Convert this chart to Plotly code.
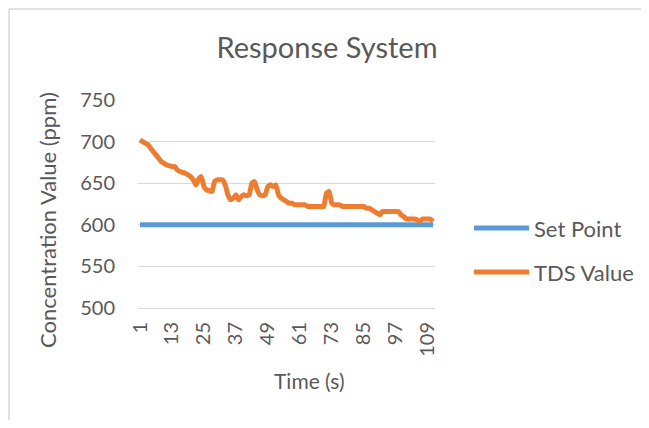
import plotly.graph_objects as go

# ---- data ----
time_s = list(range(1, 112))
set_point = [600] * 111
tds_value = [
    702, 700, 698, 696, 692, 688, 684, 680, 676, 674,
    672, 671, 670, 670, 666, 664, 663, 662, 660, 658,
    654, 648, 655, 658, 646, 642, 641, 640, 652, 654,
    654, 654, 648, 636, 630, 632, 636, 630, 634, 636,
    635, 636, 650, 652, 642, 636, 635, 636, 646, 648,
    646, 648, 636, 632, 630, 628, 626, 626, 624, 624,
    624, 624, 624, 622, 622, 622, 622, 622, 622, 622,
    638, 640, 626, 624, 624, 624, 622, 622, 622, 622,
    622, 622, 622, 622, 622, 620, 620, 618, 616, 614,
    612, 616, 616, 616, 616, 616, 616, 616, 612, 610,
    607, 607, 607, 607, 606, 604, 607, 607, 607, 607,
    604,
]
x_tick_vals = [1, 13, 25, 37, 49, 61, 73, 85, 97, 109]
y_tick_vals = [500, 550, 600, 650, 700, 750]
series_names = ["Set Point", "TDS Value"]
title_text = "Response System"
x_title = "Time (s)"
y_title = "Concentration Value (ppm)"

# ---- layout geometry (screen pixels; page body adds an 8px margin) ----
OFF = 8
W_PX, H_PX = 649 - 2 * OFF, 428 - 2 * OFF
L, R, T, B = 138, 435, 100, 308
pw, ph = R - L, B - T

def px(xp):
    return (xp - L) / pw

def py(yp):
    return 1 - (yp - T) / ph

BLUE = "#5B9BD5"
ORANGE = "#ED7D31"
TXT = "#595959"
GRID = "#D9D9D9"
FONT = "Lato"

fig = go.Figure()
fig.add_trace(go.Scatter(x=time_s, y=set_point, mode="lines", name=series_names[0],
                         line=dict(color=BLUE, width=5), showlegend=False))
fig.add_trace(go.Scatter(x=time_s, y=tds_value, mode="lines", name=series_names[1],
                         line=dict(color=ORANGE, width=5, shape="spline", smoothing=0.4),
                         showlegend=False))

shapes = []
annotations = []
# outer chart border: only top and left edges are visible in the picture
shapes.append(dict(type="line", xref="paper", yref="paper",
                   x0=px(9), x1=px(649), y0=py(9), y1=py(9),
                   line=dict(color=GRID, width=1.5), layer="below"))
shapes.append(dict(type="line", xref="paper", yref="paper",
                   x0=px(9), x1=px(9), y0=py(9), y1=py(428),
                   line=dict(color=GRID, width=1.5), layer="below"))
# manual legend
legend_rows = [(series_names[0], BLUE, 228), (series_names[1], ORANGE, 272)]
for name, col, yp in legend_rows:
    shapes.append(dict(type="line", xref="paper", yref="paper",
                       x0=px(474), x1=px(529), y0=py(yp), y1=py(yp),
                       line=dict(color=col, width=5)))
    annotations.append(dict(text=name, xref="paper", yref="paper",
                            x=px(532), y=py(yp), xanchor="left", yanchor="middle",
                            showarrow=False, font=dict(family=FONT, size=22, color=TXT)))
# axis titles
annotations.append(dict(text=x_title, xref="paper", yref="paper",
                        x=px(309), y=py(380), xanchor="center", yanchor="middle",
                        showarrow=False, font=dict(family=FONT, size=21, color=TXT)))
annotations.append(dict(text=y_title, xref="paper", yref="paper",
                        x=px(47), y=py(220), xanchor="center", yanchor="middle",
                        textangle=-90, showarrow=False,
                        font=dict(family=FONT, size=22, color=TXT)))

fig.update_layout(
    width=W_PX, height=H_PX,
    margin=dict(l=L - OFF, r=W_PX - (R - OFF), t=T - OFF, b=H_PX - (B - OFF),
                autoexpand=False),
    paper_bgcolor="white", plot_bgcolor="white",
    title=dict(text=title_text, xref="container", yref="container",
               x=(327 - OFF) / W_PX, y=1 - (48 - OFF) / H_PX,
               xanchor="center", yanchor="middle",
               font=dict(family=FONT, size=29, color=TXT)),
    shapes=shapes, annotations=annotations,
    showlegend=False,
)
fig.update_xaxes(range=[0.25, 111.75], tickmode="array", tickvals=x_tick_vals,
                 ticktext=[str(v) for v in x_tick_vals], tickangle=-90,
                 showgrid=False, zeroline=False, showline=True, linecolor=GRID, linewidth=1,
                 ticks="", ticklabelstandoff=5,
                 tickfont=dict(family=FONT, size=20, color=TXT), fixedrange=True)
fig.update_yaxes(range=[500, 750], tickmode="array", tickvals=y_tick_vals,
                 showgrid=True, gridcolor=GRID, gridwidth=1, zeroline=False,
                 showline=False, ticks="", ticklabelstandoff=22,
                 tickfont=dict(family=FONT, size=20, color=TXT), fixedrange=True)

fig.write_html("out.html")
